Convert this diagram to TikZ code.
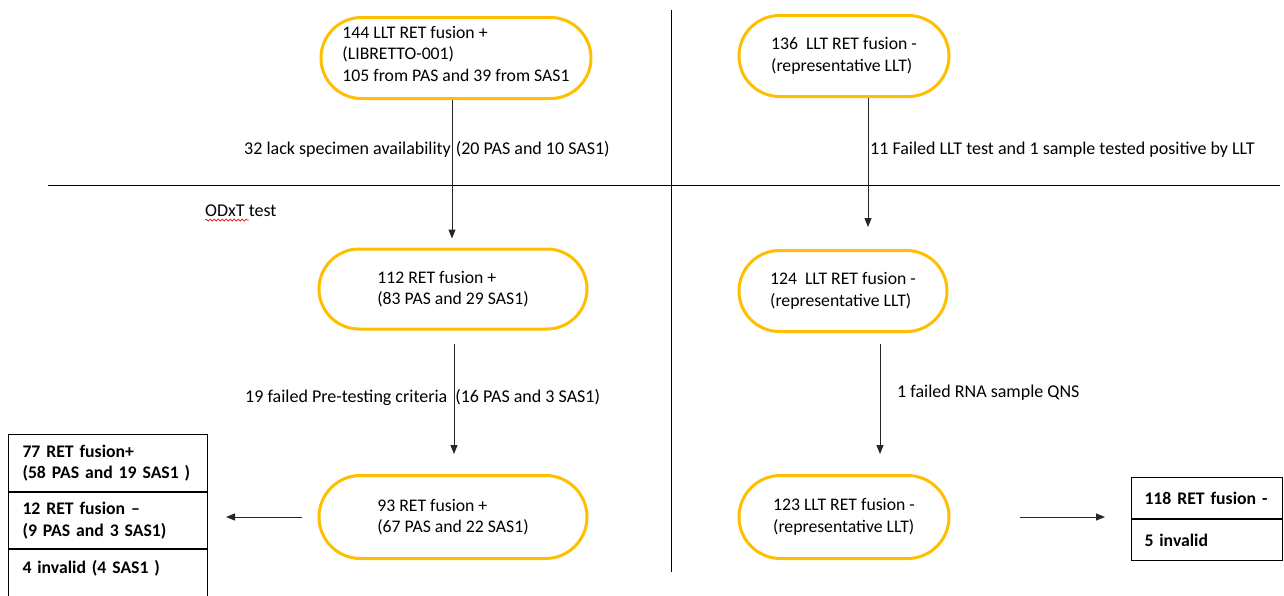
\documentclass[tikz,border=0pt]{standalone}
\usepackage{fontspec}
\setmainfont{Carlito}
\usetikzlibrary{arrows.meta,positioning,calc,shapes.misc,decorations.pathmorphing}
\definecolor{gold}{RGB}{255,190,0}

\begin{document}
\begin{tikzpicture}[x=1pt,y=-1pt,
  font=\fontsize{17.7}{21.5}\selectfont,
  pill/.style={rounded rectangle,draw=gold,line width=3pt,align=left,inner sep=0pt},
  cell/.style={draw,line width=1pt,align=left,font=\fontsize{17.7}{21.5}\selectfont\bfseries,inner ysep=0pt,anchor=north west},
  note/.style={anchor=west,inner sep=0pt,font=\fontsize{18}{21.5}\selectfont},
  arr/.style={-{Triangle[length=9pt,width=7pt]},line width=1pt,draw=black!85}]
  \useasboundingbox (0,0) rectangle (1284,595);
  \clip (0,0) rectangle (1284,595);
  % separators
  \draw[line width=1pt] (671,10) -- (671,572);
  \draw[line width=1pt] (48,185) -- (1280,185);
  % left column
  \node[pill,minimum width=270pt,minimum height=81pt,text depth=9pt] (t1) at (456,58)
    {144 LLT RET fusion +\\(LIBRETTO-001)\\105 from PAS and 39 from SAS1};
  \node[pill,minimum width=268pt,minimum height=80pt] (m1) at (453,289)
    {112 RET fusion +\\(83 PAS and 29 SAS1)};
  \node[pill,minimum width=268pt,minimum height=83pt] (b1) at (453,517)
    {93 RET fusion +\\(67 PAS and 22 SAS1)};
  % right column
  \node[pill,minimum width=210pt,minimum height=81pt] (t2) at (844,56)
    {136\ \ LLT RET fusion -\\(representative LLT)};
  \node[pill,minimum width=208pt,minimum height=81pt] (m2) at (843,291)
    {124\ \ LLT RET fusion -\\(representative LLT)};
  \node[pill,minimum width=210pt,minimum height=83pt] (b2) at (844,517)
    {123 LLT RET fusion -\\(representative LLT)};
  % result boxes
  \node[cell,text width=171pt,inner xsep=14pt,minimum height=57pt] (pos1) at (8,434)
    {77 RET fusion+\\(58 PAS and 19 SAS1 )};
  \node[cell,text width=171pt,inner xsep=14pt,minimum height=56pt] (neg1) at (pos1.south west)
    {12 RET fusion --\\(9 PAS and 3 SAS1)};
  \node[cell,text width=171pt,inner xsep=14pt,text height=13pt,text depth=60pt,inner ysep=11pt] (inv1) at (neg1.south west)
    {4 invalid (4 SAS1 )};
  \node[cell,text width=125pt,inner xsep=13pt,minimum height=41pt] (neg2) at (1131,477)
    {118 RET fusion -};
  \node[cell,text width=125pt,inner xsep=13pt,minimum height=41pt] (inv2) at (neg2.south west)
    {5 invalid};
  % labels
  \node[note] (l1) at (244,149) {32 lack specimen availability\hspace{5pt}(20 PAS and 10 SAS1)};
  \node[note] (l2) at (870,150) {11 Failed LLT test and 1 sample tested positive by LLT};
  \node[note] (odxt) at (205,211) {ODxT test};
  \node[note] (l3) at (245,397) {19 failed Pre-testing criteria\hspace{8pt}(16 PAS and 3 SAS1)};
  \node[note] (l4) at (897,393) {1 failed RNA sample QNS};
  \draw[red,line width=0.6pt,decorate,
        decoration={snake,segment length=4pt,amplitude=1pt}]
    ($(odxt.south west)+(0,3)$) -- ($(odxt.south west)+(44,3)$);
  % arrows
  \draw[arr] ($(t1.south)+(-4,0)$) -- ($(m1.north)+(-1,-9)$);
  \draw[arr] ($(t2.south)+(24,0)$) -- ($(m2.north)+(25,-22)$);
  \draw[arr] ($(m1.south)+(1,13)$) -- ($(b1.north)+(1,-20)$);
  \draw[arr] ($(m2.south)+(37,11)$) -- ($(b2.north)+(36,-20)$);
  \draw[arr] ($(b1.west)+(-16,0)$) -- ($(b1.west -| neg1.east)+(18,0)$);
  \draw[arr] ($(b2.east)+(69,0)$) -- ($(b2.east -| neg2.west)+(-26,0)$);
\end{tikzpicture}
\end{document}
